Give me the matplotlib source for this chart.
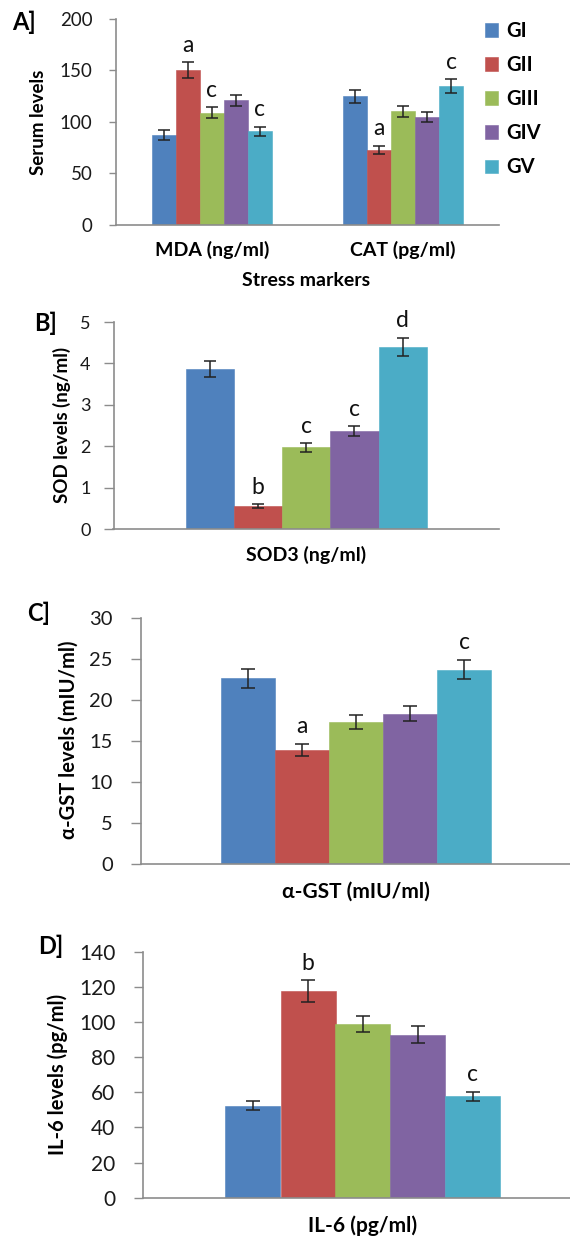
import matplotlib
matplotlib.use("Agg")
import matplotlib.pyplot as plt
import numpy as np

plt.rcParams['font.family'] = ['Lato', 'DejaVu Sans']

# ---------------- data ----------------
groups = ["GI", "GII", "GIII", "GIV", "GV"]
colors = ["#4F81BD", "#C0504D", "#9BBB59", "#8064A2", "#4BACC6"]

a_categories = ["MDA (ng/ml)", "CAT (pg/ml)"]
a_means = {  # per group: [MDA, CAT]
    "GI":   [87.5, 124.5],
    "GII":  [150.0, 72.8],
    "GIII": [108.8, 110.0],
    "GIV":  [120.7, 104.3],
    "GV":   [90.5, 134.3],
}
a_errs = {
    "GI":   [4.8, 6.4],
    "GII":  [7.7, 3.9],
    "GIII": [5.5, 5.5],
    "GIV":  [5.6, 4.7],
    "GV":   [4.5, 6.9],
}
a_letters = {
    "GI":   ["", ""],
    "GII":  ["a", "a"],
    "GIII": ["c", ""],
    "GIV":  ["", ""],
    "GV":   ["c", "c"],
}

b_category = ["SOD3 (ng/ml)"]
b_means = [3.86, 0.56, 1.97, 2.36, 4.40]
b_errs = [0.19, 0.045, 0.10, 0.12, 0.22]
b_letters = ["", "b", "c", "c", "d"]

c_category = ["α-GST (mIU/ml)"]
c_means = [22.67, 13.88, 17.34, 18.36, 23.69]
c_errs = [1.18, 0.73, 0.85, 0.94, 1.16]
c_letters = ["", "a", "", "", "c"]

d_category = ["IL-6 (pg/ml)"]
d_means = [52.4, 117.6, 98.7, 92.8, 57.7]
d_errs = [2.4, 6.2, 4.6, 4.7, 2.6]
d_letters = ["", "b", "", "", "c"]

# ---------------- layout ----------------
W, H = 570, 1239
fig = plt.figure(figsize=(W / 100, H / 100), dpi=100)

def add_ax(left, right, top, bottom):
    return fig.add_axes([left / W, 1 - bottom / H, (right - left) / W, (bottom - top) / H])

def fx(x):
    return x / W

def fy(y):
    return 1 - y / H

AX_COL = "#8c8c8c"
BAR_W = 0.125


def style_axes(ax, ylim, yticks, tick_fs, tick_len, tick_pad):
    ax.set_ylim(*ylim)
    ax.set_yticks(yticks)
    for s in ["top", "right"]:
        ax.spines[s].set_visible(False)
    for s in ["left", "bottom"]:
        ax.spines[s].set_color(AX_COL)
        ax.spines[s].set_linewidth(1.2)
    ax.tick_params(axis="y", direction="out", length=tick_len, width=1.0,
                   color=AX_COL, labelsize=tick_fs, pad=tick_pad, labelcolor="#1a1a1a")
    ax.tick_params(axis="x", length=0)


def draw_group_bars(ax, ncat, means_by_group, errs_by_group, letters_by_group,
                    capsize, letter_fs, letter_off):
    x = np.arange(ncat)
    for i, g in enumerate(groups):
        pos = x + (i - 2) * BAR_W
        m = np.atleast_1d(means_by_group[i])
        e = np.atleast_1d(errs_by_group[i])
        ax.bar(pos, m, width=BAR_W, color=colors[i], label=g,
               edgecolor=colors[i], linewidth=0.4)
        ax.errorbar(pos, m, yerr=e, fmt="none", ecolor="#222222",
                    elinewidth=1.1, capsize=capsize, capthick=1.1)
        for p, mv, ev, lt in zip(pos, m, e, np.atleast_1d(letters_by_group[i])):
            if lt:
                ax.annotate(lt, (p, mv + ev), xytext=(0, letter_off),
                            textcoords="offset points", ha="center", va="baseline",
                            fontsize=letter_fs, color="#111111")


# ---------- Panel A ----------
axA = add_ax(116, 499, 18.7, 224.7)
draw_group_bars(axA, 2,
                [a_means[g] for g in groups], [a_errs[g] for g in groups],
                [a_letters[g] for g in groups], capsize=4, letter_fs=16.5, letter_off=7.5)
axA.set_xlim(-0.5, 1.5)
style_axes(axA, (0, 200), np.arange(0, 201, 50), 13.5, 5, 12)
axA.set_xticks(np.arange(2))
axA.set_xticklabels(a_categories, fontsize=14, fontweight="bold")
axA.tick_params(axis="x", pad=12)
fig.text(fx(306), fy(280), "Stress markers", ha="center", va="center",
         fontsize=14, fontweight="bold")
fig.text(fx(38), fy(122), "Serum levels", ha="center", va="center",
         rotation=90, fontsize=13.5, fontweight="bold")
fig.text(fx(24), fy(22), "A]", ha="center", va="center", fontsize=17, fontweight="bold")
axA.legend(loc="upper left", bbox_to_anchor=(fx(485), fy(21)),
           bbox_transform=fig.transFigure, frameon=False,
           prop={"weight": "bold", "size": 14.5}, handlelength=0.65, handleheight=0.65,
           handletextpad=0.4, labelspacing=0.7, borderpad=0, borderaxespad=0)

# ---------- Panel B ----------
axB = add_ax(113.5, 499, 322, 529)
draw_group_bars(axB, 1, b_means, b_errs, b_letters, capsize=4, letter_fs=16.5, letter_off=7.5)
axB.set_xlim(-0.5, 0.5)
style_axes(axB, (0, 5), np.arange(0, 6, 1), 13, 7, 9.5)
axB.set_xticks([0])
axB.set_xticklabels(b_category, fontsize=14, fontweight="bold")
axB.tick_params(axis="x", pad=12)
fig.text(fx(62), fy(425), "SOD levels (ng/ml)", ha="center", va="center",
         rotation=90, fontsize=13.5, fontweight="bold")
fig.text(fx(46), fy(323), "B]", ha="center", va="center", fontsize=17, fontweight="bold")

# ---------- Panel C ----------
axC = add_ax(140.5, 572, 618.3, 864)
draw_group_bars(axC, 1, c_means, c_errs, c_letters, capsize=5, letter_fs=16.5, letter_off=8)
axC.set_xlim(-0.5, 0.5)
style_axes(axC, (0, 30), np.arange(0, 31, 5), 14.5, 7, 13)
axC.set_xticks([0])
axC.set_xticklabels(c_category, fontsize=15, fontweight="bold")
axC.tick_params(axis="x", pad=13)
fig.text(fx(69), fy(740), "α-GST levels (mIU/ml)", ha="center", va="center",
         rotation=90, fontsize=14.5, fontweight="bold")
fig.text(fx(39), fy(613), "C]", ha="center", va="center", fontsize=17, fontweight="bold")

# ---------- Panel D ----------
axD = add_ax(143, 583, 951.7, 1197.7)
draw_group_bars(axD, 1, d_means, d_errs, d_letters, capsize=5, letter_fs=16.5, letter_off=7.5)
axD.set_xlim(-0.5, 0.5)
style_axes(axD, (0, 140), np.arange(0, 141, 20), 15, 6.5, 13.5)
axD.set_xticks([0])
axD.set_xticklabels(d_category, fontsize=15, fontweight="bold")
axD.tick_params(axis="x", pad=13)
fig.text(fx(58), fy(1074), "IL-6 levels (pg/ml)", ha="center", va="center",
         rotation=90, fontsize=14.5, fontweight="bold")
fig.text(fx(51), fy(946), "D]", ha="center", va="center", fontsize=17, fontweight="bold")

fig.savefig("out.png", dpi=100)
